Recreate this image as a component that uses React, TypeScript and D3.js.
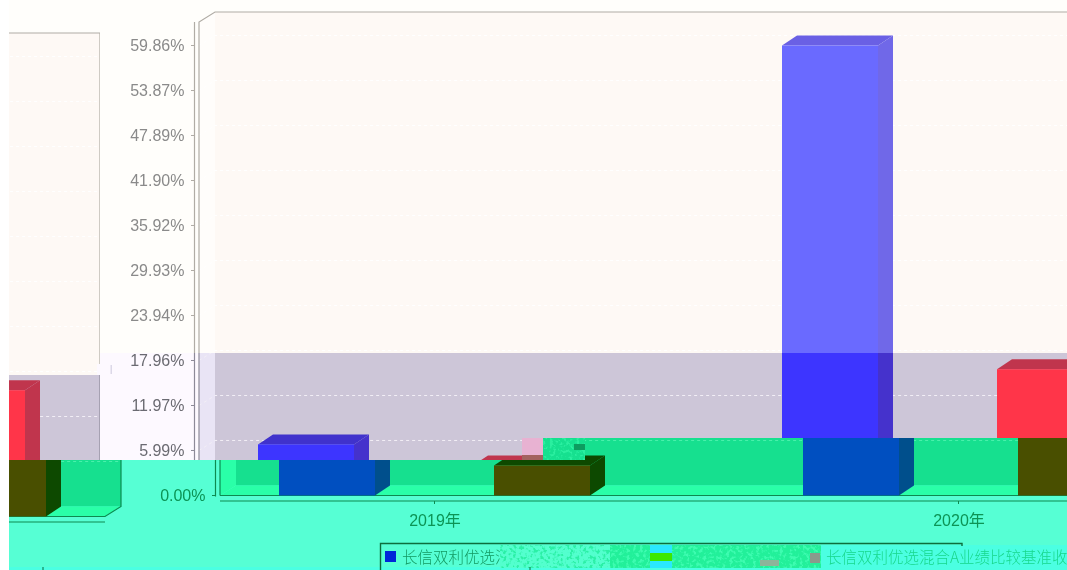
import * as d3 from "d3";

// values
const years = ["2019年", "2020年"];
const seriesNames = ["长信双利优选混合A", "长信双利优选混合A业绩比较基准收益率"];
const fundValues = [6.8, 59.86];
const benchmarkValues = [4.0, 16.8];
const yTicks = [0, 5.99, 11.97, 17.96, 23.94, 29.93, 35.92, 41.9, 47.89, 53.87, 59.86];

const WIDTH = 1067;
const HEIGHT = 570;
const BAR_W = 96;
const BAR_DEPTH_X = 15;
const DEPTH_X = 16;
const DEPTH_Y = 10;
const PLOT_LEFT = 199;
const PLOT_RIGHT = 1152;
const PLOT_TOP = 22;
const FONT = "'Liberation Sans', Arial, sans-serif";
const CJK = "'Noto Sans CJK SC', sans-serif";

type Palette = {
  bg: string;
  side: string;
  wall: string;
  floor: string;
  line: string;
  text: string;
  grid: string;
  blue: [string, string, string];
  red: [string, string, string];
};

const normal: Palette = {
  bg: "#fffefb",
  side: "#fffdfb",
  wall: "#fef9f5",
  floor: "#fef9f5",
  line: "#b0aca5",
  text: "#8a8a8a",
  grid: "#ffffff",
  blue: ["#6a6aff", "#6a60e4", "#7068e8"],
  red: ["#ff344a", "#c0364e", "#c0364e"],
};
const purple: Palette = {
  bg: "#fdf9ff",
  side: "#e9e4f5",
  wall: "#cdc6d8",
  floor: "#cdc6d8",
  line: "#8d8a98",
  text: "#6b6b72",
  grid: "#f2eef6",
  blue: ["#3c36ff", "#3f30cc", "#4433cc"],
  red: ["#ff344a", "#c0364e", "#c0364e"],
};
const green: Palette = {
  bg: "#57ffd4",
  side: "#2bffa8",
  wall: "#14e08f",
  floor: "#2bffa8",
  line: "#0a8a50",
  text: "#0b9455",
  grid: "#4cf0ac",
  blue: ["#0050c0", "#00508c", "#00508c"],
  red: ["#4a5000", "#0a4a00", "#0a4a00"],
};

const y = d3.scaleLinear().domain([0, 59.86]).range([495.5, 45.5]);
const x0 = d3.scaleBand<string>().domain(years).range([151.5, 1199.5]);
const xSeries = d3.scalePoint<string>().domain(seriesNames).range([-155.5, 59.5]);
const poly = d3.line();

function Bar({ x, value, colors }: { x: number; value: number; colors: [string, string, string] }) {
  const top = y(value);
  const base = y(0);
  const right = x + BAR_W;
  return (
    <g>
      <path fill={colors[1]} d={poly([[x, top], [x + BAR_DEPTH_X, top - DEPTH_Y], [right + BAR_DEPTH_X, top - DEPTH_Y], [right, top]])!} />
      <path fill={colors[2]} d={poly([[right, top], [right + BAR_DEPTH_X, top - DEPTH_Y], [right + BAR_DEPTH_X, base - DEPTH_Y], [right, base]])!} />
      <rect x={x} y={top} width={BAR_W} height={base - top} fill={colors[0]} />
    </g>
  );
}

// shows() keeps each torn layer from carrying labels that its clip hides anyway
function ChartBody({ p, shows }: { p: Palette; shows: (x: number, y: number) => boolean }) {
  const base = y(0);
  const wallBottom = base - DEPTH_Y;
  const wallLeft = PLOT_LEFT + DEPTH_X;
  const wallRight = PLOT_RIGHT + DEPTH_X;
  const wallTop = PLOT_TOP - DEPTH_Y;
  const bw = x0.bandwidth();
  return (
    <g>
      <rect x={-1200} y={-100} width={3600} height={900} fill={p.bg} />
      <rect x={wallLeft} y={wallTop} width={wallRight - wallLeft} height={wallBottom - wallTop} fill={p.wall} />
      <path fill={p.side} d={poly([[PLOT_LEFT, PLOT_TOP], [wallLeft, wallTop], [wallLeft, wallBottom], [PLOT_LEFT, base]])!} />
      <path fill={p.floor} d={poly([[PLOT_LEFT, base], [wallLeft, wallBottom], [wallRight, wallBottom], [PLOT_RIGHT, base]])!} />
      {yTicks.filter((t) => t > 0).map((t) => (
        <path
          key={t}
          fill="none"
          stroke={p.grid}
          strokeDasharray="3 3"
          d={poly([[PLOT_LEFT, y(t)], [wallLeft, y(t) - DEPTH_Y], [wallRight, y(t) - DEPTH_Y]])!}
        />
      ))}
      <path
        fill="none"
        stroke={p.line}
        strokeWidth={1.2}
        d={poly([[PLOT_LEFT, base], [PLOT_LEFT, PLOT_TOP], [wallLeft, wallTop], [wallRight, wallTop], [wallRight, wallBottom], [PLOT_RIGHT, base], [PLOT_LEFT, base]])!}
      />
      {years.map((year, i) => (
        <g key={year}>
          <Bar x={x0(year)! + bw / 2 + xSeries(seriesNames[0])!} value={fundValues[i]} colors={p.blue} />
          <Bar x={x0(year)! + bw / 2 + xSeries(seriesNames[1])!} value={benchmarkValues[i]} colors={p.red} />
        </g>
      ))}
      {/* y axis */}
      <line x1={194.5} x2={194.5} y1={PLOT_TOP} y2={base + 1} stroke={p.line} strokeWidth={1.2} />
      {yTicks.map((t) => (
        <g key={t}>
          <line x1={191} x2={194.5} y1={y(t)} y2={y(t)} stroke={p.line} />
          {shows(160, y(t)) && (
            <text x={184.5} y={y(t) + 5.5} textAnchor="end" fontFamily={FONT} fontSize={16} fill={p.text}>
              {t.toFixed(2)}%
            </text>
          )}
        </g>
      ))}
      {/* x axis */}
      <line x1={PLOT_LEFT} x2={PLOT_RIGHT} y1={501} y2={501} stroke={p.line} strokeWidth={1.2} />
      {years.map((year) => {
        const cx = x0(year)! + bw / 2;
        return (
          <g key={year}>
            <line x1={cx} x2={cx} y1={501} y2={504} stroke={p.line} />
            {shows(cx, 520) && (
              <text x={cx + 0.5} y={526} textAnchor="middle" fontFamily={`${FONT}, 'Noto Sans CJK SC'`} fontSize={16} fill={p.text}>
                {year}
              </text>
            )}
          </g>
        );
      })}
    </g>
  );
}

// The picture is torn: the right end wraps round to the left 21px lower,
// and the lower rows are recoloured and pushed 21px to the right.
const layers: { id: string; clip: [number, number][]; dx: number; dy: number; p: Palette }[] = [
  { id: "n-main", clip: [[100, 0], [1067, 0], [1067, 353], [100, 353]], dx: 0, dy: 0, p: normal },
  { id: "n-wrap", clip: [[9, 0], [100, 0], [100, 375], [9, 375]], dx: -1068, dy: 21, p: normal },
  { id: "p-main", clip: [[100, 353], [1067, 353], [1067, 438], [543, 438], [543, 460], [100, 460]], dx: 0, dy: 0, p: purple },
  { id: "p-wrap", clip: [[9, 375], [100, 375], [100, 460], [9, 460]], dx: -1068, dy: 21, p: purple },
  { id: "g-main", clip: [[122, 460], [543, 460], [543, 438], [1067, 438], [1067, 570], [122, 570]], dx: 21, dy: 0, p: green },
  { id: "g-wrap", clip: [[9, 460], [122, 460], [122, 570], [9, 570]], dx: -1047, dy: 21, p: green },
];

// flat leftovers of the tear
const patches = [
  { x: 9, y: 567, w: 1058, h: 3, fill: "#4cffe2" },
  { x: 821, y: 545, w: 246, h: 25, fill: "#4cffe2" },
  { x: 522, y: 438, w: 21, h: 17, fill: "#e8b2d2" },
  { x: 522, y: 455, w: 21, h: 5, fill: "#a3625f" },
  { x: 97, y: 364, w: 8, h: 11, fill: "#fdf9ff" },
  { x: 110.5, y: 365, w: 1.5, h: 9, fill: "#dcd8e8" },
];
const noisePatches = [
  { x: 543, y: 438, w: 42, h: 22, fill: "#14e08f", ink: "#2cefa0" },
  { x: 500, y: 545, w: 110, h: 23, fill: "#52ffce", ink: "#2cf0a6" },
  { x: 610, y: 545, w: 211, h: 23, fill: "#22f09a", ink: "#3dfcb0" },
];
const solidBits = [
  { x: 574, y: 444, w: 11, h: 6, fill: "#0c9c60" },
  { x: 650, y: 545, w: 22, h: 8, fill: "#2ce8ff" },
  { x: 650, y: 553, w: 22, h: 8, fill: "#3ce800" },
  { x: 650, y: 561, w: 22, h: 7, fill: "#2ce8ff" },
  { x: 760, y: 560, w: 19, h: 6, fill: "#8eb49a" },
];

export default function App() {
  return (
    <svg
      width={WIDTH}
      height={HEIGHT}
      viewBox={`0 0 ${WIDTH} ${HEIGHT}`}
      style={{ position: "absolute", left: 0, top: 0, display: "block" }}
    >
      <defs>
        {layers.map((l) => (
          <clipPath key={l.id} id={`clip-${l.id}`}>
            <polygon points={l.clip.map((pt) => pt.join(",")).join(" ")} />
          </clipPath>
        ))}
        <filter id="soft" x="0" y="0" width="100%" height="100%">
          <feGaussianBlur stdDeviation="0.45" />
        </filter>
        <filter id="speck" x="0" y="0" width="100%" height="100%">
          <feTurbulence type="fractalNoise" baseFrequency="0.3" numOctaves="2" seed="4" result="n" />
          <feColorMatrix in="n" type="matrix" values="0 0 0 0 0  0 0 0 0 0  0 0 0 0 0  0 0 0 6 -3" result="mask" />
          <feComposite in="SourceGraphic" in2="mask" operator="in" />
        </filter>
      </defs>
      <rect width={WIDTH} height={HEIGHT} fill="#ffffff" />
      <g filter="url(#soft)">
        {layers.map((l) => (
          <g key={l.id} clipPath={`url(#clip-${l.id})`}>
            <g transform={`translate(${l.dx},${l.dy})`}>
              <ChartBody p={l.p} shows={(tx, ty) => d3.polygonContains(l.clip, [tx + l.dx, ty + l.dy])} />
            </g>
          </g>
        ))}
        {patches.map((r, i) => (
          <rect key={i} x={r.x} y={r.y} width={r.w} height={r.h} fill={r.fill} />
        ))}
        {/* legend */}
        <path fill="none" stroke="#0a6e3c" strokeWidth={1.4} d={poly([[380.5, 570], [380.5, 543.5], [962, 543.5], [962, 546]])!} />
        <rect x={385} y={551} width={11} height={11} fill="#0028d8" />
        <text x={402} y={563} fontFamily={CJK} fontSize={15.5} fontWeight={300} fill="#129a62">
          {seriesNames[0]}
        </text>
        {noisePatches.map((r, i) => (
          <g key={i}>
            <rect x={r.x} y={r.y} width={r.w} height={r.h} fill={r.fill} />
            <rect x={r.x} y={r.y} width={r.w} height={r.h} fill={r.ink} filter="url(#speck)" />
          </g>
        ))}
        {solidBits.map((r, i) => (
          <rect key={i} x={r.x} y={r.y} width={r.w} height={r.h} fill={r.fill} />
        ))}
        <rect x={810} y={553} width={10} height={10} fill="#8a9a8c" />
        <text x={826} y={563} fontFamily={CJK} fontSize={15.5} fontWeight={300} fill="#19d88c">
          {seriesNames[1]}
        </text>
        <line x1={43} x2={43} y1={567} y2={570} stroke="#0a6e3c" />
        <line x1={530} x2={530} y1={567} y2={570} stroke="#0a6e3c" />
      </g>
    </svg>
  );
}
